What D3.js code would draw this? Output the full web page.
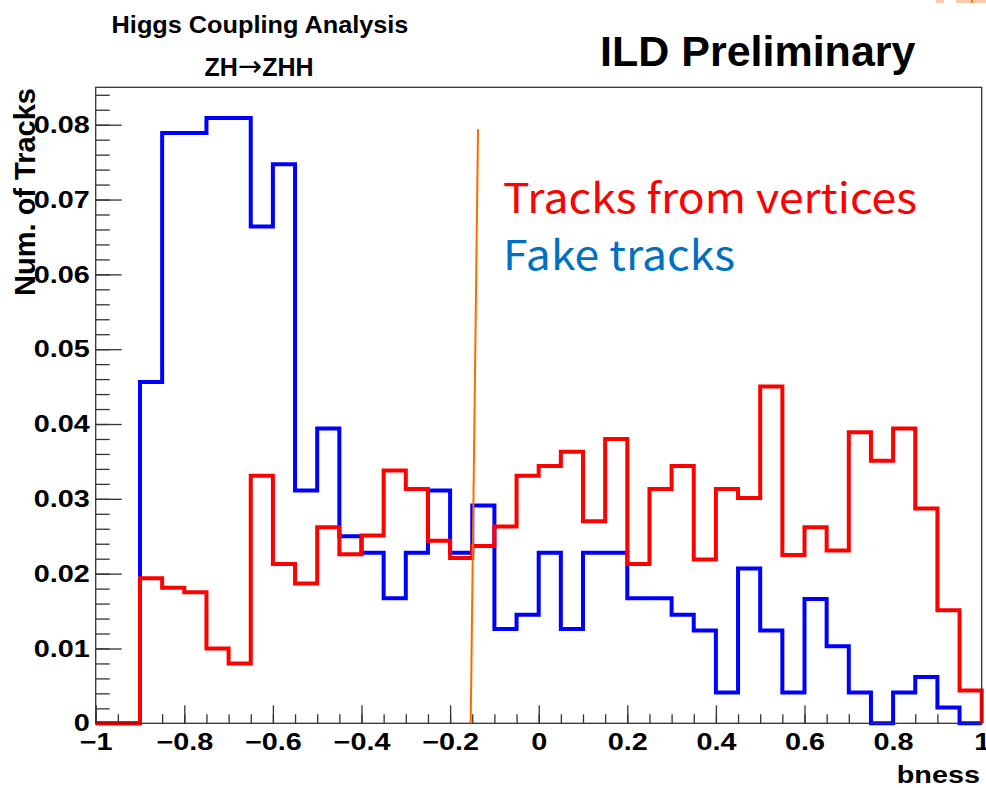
<!doctype html>
<html>
  <head>
    <meta charset="utf-8">
    <script src="https://cdnjs.cloudflare.com/ajax/libs/d3/7.8.5/d3.min.js"></script>
    <style>
      body { margin: 0; background: #fff; }
      svg { display: block; }
      .root-text { font-family: "Liberation Sans", Arial, sans-serif; font-weight: bold; fill: #000; }
      .axis path.domain { display: none; }
      .axis line { stroke: #333; stroke-width: 1.3; }
      .axis text { font-family: "Liberation Sans", Arial, sans-serif; font-weight: bold; font-size: 24px; fill: #000; }
      path.hist { fill: none; stroke-width: 4; stroke-linejoin: miter; }
      path.fake { stroke: #0000ff; }
      path.vtx { stroke: #ff0000; }
      rect.frame { fill: none; stroke: #333; stroke-width: 1.3; }
      .legend { font-family: "Noto Sans CJK JP", "Noto Sans", sans-serif; font-size: 41px; }
    </style>
  </head>
  <body>
    <svg width="986" height="788"></svg>
    <script>
      // bin lower edges, bin width 0.05
      var binLow = [-1.00, -0.95, -0.90, -0.85, -0.80, -0.75, -0.70, -0.65, -0.60, -0.55,
                    -0.50, -0.45, -0.40, -0.35, -0.30, -0.25, -0.20, -0.15, -0.10, -0.05,
                     0.00,  0.05,  0.10,  0.15,  0.20,  0.25,  0.30,  0.35,  0.40,  0.45,
                     0.50,  0.55,  0.60,  0.65,  0.70,  0.75,  0.80,  0.85,  0.90,  0.95];
      var binWidth = 0.05;

      // Tracks from vertices (red)
      var vertexTracks = [0, 0, 0.0194, 0.0181, 0.0175, 0.0100, 0.0080, 0.0331, 0.0213, 0.0187,
                          0.0262, 0.0226, 0.0251, 0.0338, 0.0313, 0.0244, 0.0221, 0.0237, 0.0263, 0.0331,
                          0.0344, 0.0363, 0.0270, 0.0380, 0.0213, 0.0313, 0.0344, 0.0219, 0.0313, 0.0301,
                          0.0450, 0.0225, 0.0262, 0.0231, 0.0389, 0.0351, 0.0394, 0.0287, 0.0151, 0.0044];

      // Fake tracks (blue)
      var fakeTracks = [0, 0, 0.0456, 0.0789, 0.0789, 0.0809, 0.0809, 0.0664, 0.0747, 0.0311,
                        0.0394, 0.0250, 0.0228, 0.0167, 0.0228, 0.0311, 0.0228, 0.0291, 0.0126, 0.0145,
                        0.0228, 0.0126, 0.0228, 0.0228, 0.0167, 0.0167, 0.0145, 0.0124, 0.0041, 0.0207,
                        0.0124, 0.0041, 0.0166, 0.0103, 0.0041, 0, 0.0041, 0.0062, 0.0021, 0];

      var xMajor = [-1, -0.8, -0.6, -0.4, -0.2, 0, 0.2, 0.4, 0.6, 0.8, 1];
      var yMajor = [0, 0.01, 0.02, 0.03, 0.04, 0.05, 0.06, 0.07, 0.08];

      // hand-drawn cut line (orange)
      var cutLine = [{x: -0.137, y: 0.0794}, {x: -0.1535, y: 0}];

      var svg = d3.select("svg");

      var x = d3.scaleLinear().domain([-1, 1]).range([95.7, 981.7]);
      var y = d3.scaleLinear().domain([0, 0.085]).range([723.3, 87.3]);

      // minor ticks
      var xMinor = d3.range(0, 41).map(i => -1 + i * binWidth);
      var yMinor = d3.range(0, 43).map(i => i * 0.002);

      svg.append("g").attr("class", "axis")
        .attr("transform", "translate(0," + y(0) + ")")
        .call(d3.axisBottom(x).tickValues(xMinor).tickSize(-9).tickFormat(""));
      var xAxis = svg.append("g").attr("class", "axis")
        .attr("transform", "translate(0," + y(0) + ")")
        .call(d3.axisBottom(x).tickValues(xMajor).tickSize(-18).tickPadding(10)
          .tickFormat(d => d3.format("")(+d.toFixed(1))));
      xAxis.selectAll("text").attr("transform", "scale(1.2,1)");

      svg.append("g").attr("class", "axis")
        .attr("transform", "translate(" + x(-1) + ",0)")
        .call(d3.axisLeft(y).tickValues(yMinor).tickSize(-14).tickFormat(""));
      var yAxis = svg.append("g").attr("class", "axis")
        .attr("transform", "translate(" + x(-1) + ",0)")
        .call(d3.axisLeft(y).tickValues(yMajor).tickSize(-26).tickPadding(5)
          .tickFormat(d => d === 0 ? "0" : d3.format(".2f")(d)));
      yAxis.selectAll("text").attr("transform", "scale(1.2,1)");

      // histogram outline
      function histPath(vals) {
        var pts = [[x(-1), y(0)]];
        vals.forEach((v, i) => {
          pts.push([x(binLow[i]), y(v)]);
          pts.push([x(binLow[i] + binWidth), y(v)]);
        });
        pts.push([x(1), y(0)]);
        return d3.line()(pts);
      }

      svg.append("path").attr("class", "hist fake").attr("d", histPath(fakeTracks));
      svg.append("path").attr("class", "hist vtx").attr("d", histPath(vertexTracks));

      svg.append("rect").attr("class", "frame")
        .attr("x", x(-1)).attr("y", y(0.085))
        .attr("width", x(1) - x(-1)).attr("height", y(0) - y(0.085));

      svg.append("path")
        .attr("d", d3.line().x(d => x(d.x)).y(d => y(d.y))(cutLine))
        .attr("stroke", "#ff6a00").attr("stroke-width", 2).attr("fill", "none");

      // titles
      svg.append("g").attr("transform", "translate(260,33) scale(1.1,1)")
        .append("text").attr("class", "root-text").attr("text-anchor", "middle")
        .style("font-size", "23px").text("Higgs Coupling Analysis");

      var zh = svg.append("text").attr("class", "root-text")
        .attr("x", 259).attr("y", 76).attr("text-anchor", "middle").style("font-size", "25px");
      zh.append("tspan").text("ZH");
      zh.append("tspan").style("font-weight", "normal").style("font-family", "DejaVu Sans")
        .style("font-size", "29px").text("\u2192");
      zh.append("tspan").text("ZHH");

      svg.append("text").attr("class", "root-text")
        .attr("x", 600).attr("y", 66).style("font-size", "43px").text("ILD Preliminary");

      svg.append("text").attr("class", "root-text")
        .attr("transform", "translate(35,88) rotate(-90)")
        .attr("text-anchor", "end").style("font-size", "29px").text("Num. of Tracks");

      svg.append("g").attr("transform", "translate(980,783) scale(1.2,1)")
        .append("text").attr("class", "root-text").attr("text-anchor", "end")
        .style("font-size", "24px").text("bness");

      // legend
      svg.append("text").attr("class", "legend").attr("x", 503).attr("y", 213)
        .attr("fill", "#ff0000").attr("textLength", 414).attr("lengthAdjust", "spacingAndGlyphs")
        .text("Tracks from vertices");
      svg.append("text").attr("class", "legend").attr("x", 503).attr("y", 270)
        .attr("fill", "#0070c0").attr("textLength", 232).attr("lengthAdjust", "spacingAndGlyphs")
        .text("Fake tracks");

      // slide leftovers in the corner
      svg.append("rect").attr("x", 936).attr("y", 0).attr("width", 8).attr("height", 3).attr("fill", "#fdc8b0");
      svg.append("rect").attr("x", 956).attr("y", 0).attr("width", 30).attr("height", 3).attr("fill", "#fdc8b0");
      svg.append("rect").attr("x", 971).attr("y", 0).attr("width", 2).attr("height", 3).attr("fill", "#f47b20");
    </script>
  </body>
</html>
